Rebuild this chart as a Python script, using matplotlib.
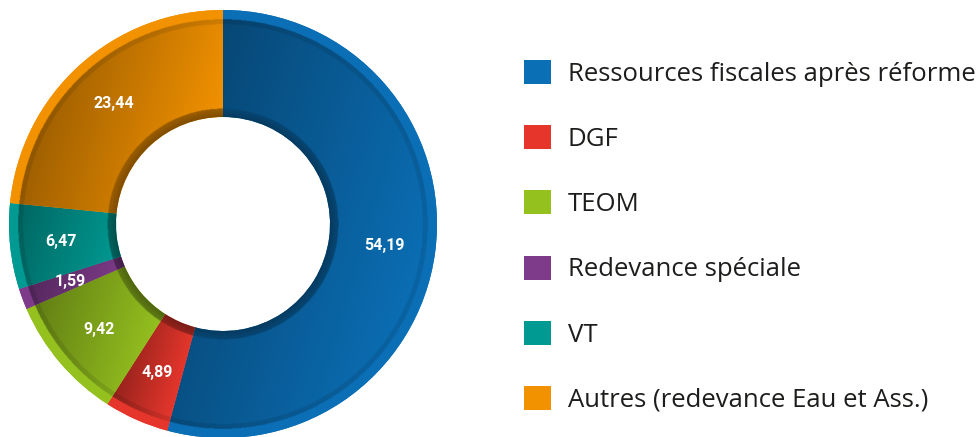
import numpy as np
import matplotlib.pyplot as plt
from matplotlib.colors import to_rgb

labels = ['Ressources fiscales après réforme', 'DGF', 'TEOM',
          'Redevance spéciale', 'VT', 'Autres (redevance Eau et Ass.)']
values = [54.19, 4.89, 9.42, 1.59, 6.47, 23.44]
colors = ['#0b6fb6', '#e6362c', '#95c11f', '#7e3b8a', '#009a93', '#f39200']

hole = 107 / 214


def fmt(p):
    return f"{p:.2f}".replace('.', ',')


fig = plt.figure(figsize=(9.78, 4.37), dpi=100)
ax = fig.add_axes([9 / 978, -1 / 437, 428 / 978, 428 / 437])

wedges, _, autotexts = ax.pie(
    values, colors=colors, startangle=90, counterclock=False, radius=1,
    autopct=fmt, pctdistance=0.76,
    wedgeprops=dict(width=1 - hole, linewidth=0),
    textprops=dict(color='white', fontsize=11.5, fontweight='bold', family='Roboto'),
)

# shading: darker on the upper-left of each slice, dark inner rim, flat outer rim
n = 700
xs = np.linspace(-1, 1, n)
X, Y = np.meshgrid(xs, xs)
r = np.hypot(X, Y)
for w, c in zip(wedges, colors):
    ang = np.radians(np.linspace(w.theta1, w.theta2, 200))
    px = np.concatenate([hole * np.cos(ang), np.cos(ang)])
    py = np.concatenate([hole * np.sin(ang), np.sin(ang)])
    p = px - 0.3 * py
    norm = np.clip(((X - 0.3 * Y) - p.min()) / (p.max() - p.min() + 1e-9), 0, 1)
    factor = 0.64 + 0.36 * norm
    factor = np.where((r > 0.935) & (r < 0.958), factor * 0.9, factor)
    factor = np.where(r >= 0.958, 1.0, factor)
    factor = np.where(r < hole + 0.04, 0.52 + (r - hole) * 3, factor)
    rgb = np.clip(np.array(to_rgb(c))[None, None, :] * factor[..., None], 0, 1)
    im = ax.imshow(rgb, extent=(-1, 1, -1, 1), origin='lower', zorder=2,
                   interpolation='bilinear')
    im.set_clip_path(w)

for t in autotexts:
    t.set_zorder(5)

ax.set_xlim(-1, 1)
ax.set_ylim(-1, 1)
ax.set_aspect('equal')
ax.axis('off')

fig.legend(wedges, labels, loc='upper left', bbox_to_anchor=(524 / 978, 1 - 60 / 437),
           frameon=False, prop=dict(family='Open Sans', size=18.5),
           handlelength=1.05, handleheight=1.05, handletextpad=0.66,
           labelspacing=1.5, borderpad=0, borderaxespad=0, labelcolor='#1d1d1b')

fig.savefig('out.png', dpi=100)
